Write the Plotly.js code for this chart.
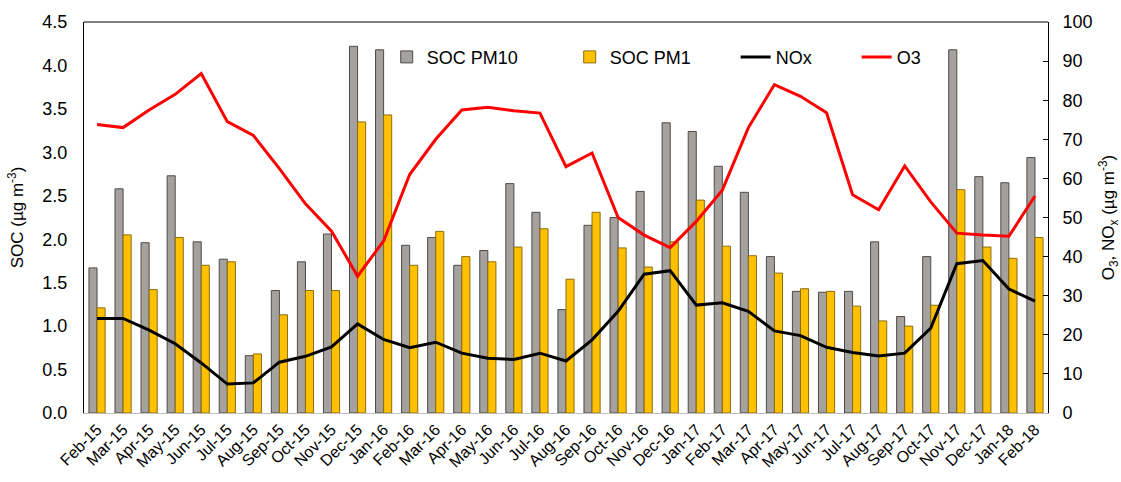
<!DOCTYPE html>
<html>
<head>
<meta charset="utf-8">
<script src="https://cdn.plot.ly/plotly-3.0.1.min.js"></script>
<style>html,body{margin:0;padding:0;background:#fff;}#chart{width:1121px;height:482px;}</style>
</head>
<body>
<div id="chart"></div>
<script>
var months = ["Feb-15","Mar-15","Apr-15","May-15","Jun-15","Jul-15","Aug-15","Sep-15","Oct-15","Nov-15","Dec-15",
"Jan-16","Feb-16","Mar-16","Apr-16","May-16","Jun-16","Jul-16","Aug-16","Sep-16","Oct-16","Nov-16","Dec-16",
"Jan-17","Feb-17","Mar-17","Apr-17","May-17","Jun-17","Jul-17","Aug-17","Sep-17","Oct-17","Nov-17","Dec-17",
"Jan-18","Feb-18"];
var socPM10 = [1.67,2.58,1.96,2.73,1.97,1.77,0.66,1.41,1.74,2.06,4.22,
4.18,1.93,2.02,1.70,1.87,2.64,2.31,1.19,2.16,2.25,2.55,3.34,
3.24,2.84,2.54,1.80,1.40,1.39,1.40,1.97,1.11,1.80,4.18,2.72,
2.65,2.94];
var socPM1 = [1.21,2.05,1.42,2.02,1.70,1.74,0.68,1.13,1.41,1.41,3.35,
3.43,1.70,2.09,1.80,1.74,1.91,2.12,1.54,2.31,1.90,1.68,1.97,
2.45,1.92,1.81,1.61,1.43,1.40,1.23,1.06,1.00,1.24,2.57,1.91,
1.78,2.02];
var nox = [24.2,24.2,21.2,17.7,12.8,7.4,7.7,13.0,14.5,16.9,22.8,
18.8,16.7,18.1,15.3,14.0,13.7,15.3,13.3,18.7,26.0,35.5,36.4,
27.6,28.2,26.0,21.0,19.8,16.8,15.5,14.6,15.3,21.7,38.2,39.0,
31.7,28.6];
var o3 = [73.8,73.0,77.5,81.5,86.8,74.5,71.0,62.5,53.5,46.5,35.0,
44.0,61.0,70.0,77.5,78.2,77.3,76.7,63.0,66.5,50.0,45.5,42.3,
49.0,57.0,73.0,84.0,81.0,76.8,55.8,52.0,63.2,54.0,46.0,45.5,
45.2,55.5];

var font = "Liberation Sans, Arial, sans-serif";
var data = [
  {type:"bar", name:"SOC PM10", x:months, y:socPM10, marker:{color:"#a5a19f", line:{color:"#4d4a48", width:1}}, legend:"legend"},
  {type:"bar", name:"SOC PM1", x:months, y:socPM1, marker:{color:"#ffc000", line:{color:"#8a6d10", width:1}}, legend:"legend"},
  {type:"scatter", mode:"lines", name:"NOx", x:months, y:nox, yaxis:"y2", line:{color:"#000000", width:3}, legend:"legend2"},
  {type:"scatter", mode:"lines", name:"O3", x:months, y:o3, yaxis:"y2", line:{color:"#ff0000", width:3}, legend:"legend2"}
];
var layout = {
  width:1121, height:482,
  margin:{l:84, r:73, t:22, b:69},
  paper_bgcolor:"#fff", plot_bgcolor:"#fff",
  font:{family:font, size:18, color:"#000"},
  barmode:"group", bargap:0.38, bargroupgap:0,
  showlegend:true,
  legend:{orientation:"h", x:0.314, y:0.91, xanchor:"left", yanchor:"middle", entrywidth:138, bgcolor:"rgba(0,0,0,0)", font:{size:18}, traceorder:"normal"},
  legend2:{orientation:"h", x:0.676, y:0.91, xanchor:"left", yanchor:"middle", entrywidth:76, bgcolor:"rgba(0,0,0,0)", font:{size:18}, traceorder:"normal"},
  xaxis:{type:"category", tickangle:-45, showline:true, linecolor:"#bfbfbf", linewidth:1, mirror:false, ticks:"", showgrid:false, tickfont:{size:16}, automargin:false},
  yaxis:{range:[0,4.5], dtick:0.5, tickformat:".1f", showline:true, linecolor:"#000", linewidth:1, mirror:false, ticks:"", showgrid:false, zeroline:false, ticklabelstandoff:12,
    title:{text:"SOC (µg m<sup>-3</sup>)", font:{size:17}, standoff:14}, automargin:false},
  yaxis2:{range:[0,100], dtick:10, overlaying:"y", side:"right", showline:true, linecolor:"#000", linewidth:1, ticks:"inside", ticklen:5, tickcolor:"#000", showgrid:false, zeroline:false, ticklabelstandoff:10,
    title:{text:"O<sub>3</sub>, NO<sub>x</sub> (µg m<sup>-3</sup>)", font:{size:17}, standoff:18}, automargin:false},
  shapes:[{type:"line", xref:"paper", yref:"paper", x0:0, x1:1, y0:1, y1:1, line:{color:"#000", width:1}}]
};
Plotly.newPlot("chart", data, layout, {displayModeBar:false, staticPlot:true});
</script>
</body>
</html>
